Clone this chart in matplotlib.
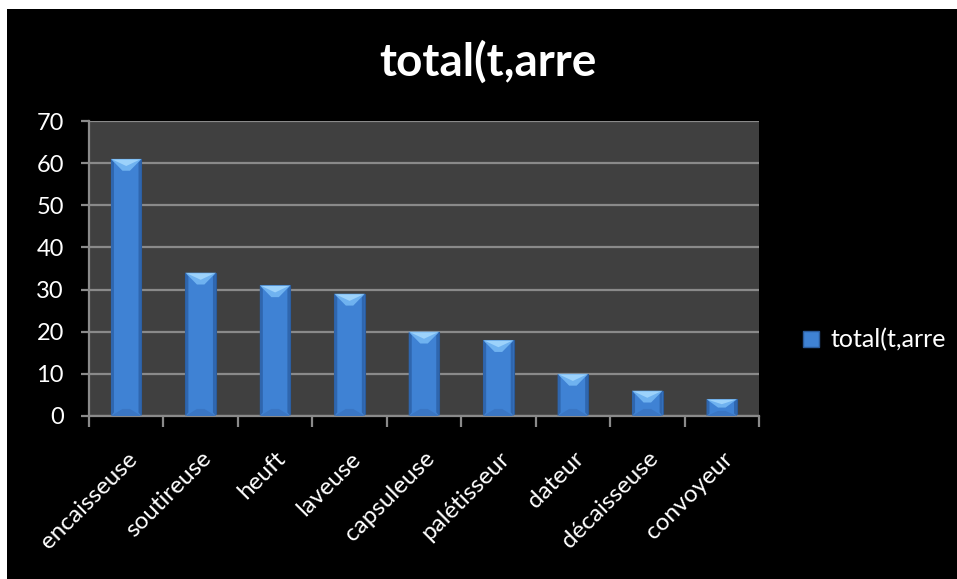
import matplotlib.pyplot as plt
from matplotlib.patches import Rectangle
from matplotlib.lines import Line2D

machines = ["encaisseuse", "soutireuse", "heuft", "laveuse", "capsuleuse",
            "palétisseur", "dateur", "décaisseuse", "convoyeur"]
arrets = [61, 34, 31, 29, 20, 18, 10, 6, 4]
titre = "total(t,arre"

plt.rcParams['font.family'] = ['Lato', 'DejaVu Sans']

fig = plt.figure(figsize=(9.57, 5.79), dpi=100, facecolor="black")
# bande blanche en haut et à gauche
fig.patches.append(Rectangle((0, 0), 7 / 957, 1, transform=fig.transFigure,
                             facecolor="white", edgecolor="none"))
fig.patches.append(Rectangle((0, 1 - 9 / 579), 1, 9 / 579, transform=fig.transFigure,
                             facecolor="white", edgecolor="none"))

ax = fig.add_axes([89 / 957, 1 - 416 / 579, 670 / 957, 295 / 579])
ax.set_zorder(3)
ax.set_facecolor("#404040")
ax.set_xlim(-0.5, len(machines) - 0.5)
ax.set_ylim(0, 70)
ax.set_yticks(range(0, 71, 10))
ax.yaxis.grid(True, color="#8a8a8a", linewidth=1.6)
ax.set_axisbelow(True)

for s in ["top", "right"]:
    ax.spines[s].set_visible(False)
for s in ["left", "bottom"]:
    ax.spines[s].set_color("#8a8a8a")
    ax.spines[s].set_linewidth(1.6)

# barres avec effet biseauté
w = 0.41
for i, v in enumerate(arrets):
    x0, x1 = i - w / 2, i + w / 2
    ax.bar(i, v, width=w, color="#3f82d4", edgecolor="#2a5a9a", linewidth=0.8, zorder=2)
    d = min(2.8, v / 2)
    xm = i
    # côtés plus sombres
    ax.fill([x0, x0 + 0.04, x0 + 0.04, x0], [0, d * 0.3, v - d * 0.3, v],
            color="#2f66ae", zorder=3, linewidth=0)
    ax.fill([x1, x1 - 0.04, x1 - 0.04, x1], [0, d * 0.3, v - d * 0.3, v],
            color="#2f66ae", zorder=3, linewidth=0)
    # dessus clair
    ax.fill([x0, x1, xm + 0.05, xm - 0.05], [v, v, v - d, v - d],
            color="#6fb2f0", zorder=3, linewidth=0)
    ax.fill([x0 + 0.02, x1 - 0.02, xm], [v - 0.15, v - 0.15, v - d * 0.6],
            color="#9cd2fb", zorder=3, linewidth=0)
    # bas légèrement éclairé
    ax.fill([x0, x1, xm + 0.05, xm - 0.05], [0, 0, d * 0.6, d * 0.6],
            color="#3a76c4", zorder=3, linewidth=0)

ax.set_xticks([i + 0.5 for i in range(-1, len(machines))], minor=False)
ax.set_xticklabels([])
ax.tick_params(axis="x", which="major", length=8, width=1.6, color="#8a8a8a")
ax.set_xticks(range(len(machines)), minor=True)
ax.set_xticklabels(machines, minor=True, rotation=45, ha="right",
                   rotation_mode="anchor", color="white", fontsize=17.5)
ax.tick_params(axis="x", which="minor", length=0, pad=23)
ax.tick_params(axis="y", length=6, width=1.6, color="#8a8a8a",
               labelcolor="white", labelsize=17, pad=12)

fig.text(0.51, 1 - 62 / 579, titre, color="white", fontsize=33,
         fontweight="bold", ha="center", va="center")

handle = Line2D([], [], marker="s", linestyle="none", markersize=12,
                markerfacecolor="#3f82d4", markeredgecolor="#2a5a9a")
fig.legend([handle], [titre], loc="center left",
           bbox_to_anchor=(798 / 957, 1 - 340 / 579), frameon=False,
           borderpad=0, borderaxespad=0, handlelength=1.0,
           labelcolor="white", fontsize=18, handletextpad=0.3)

fig.savefig("out.png", dpi=100, facecolor=fig.get_facecolor())
